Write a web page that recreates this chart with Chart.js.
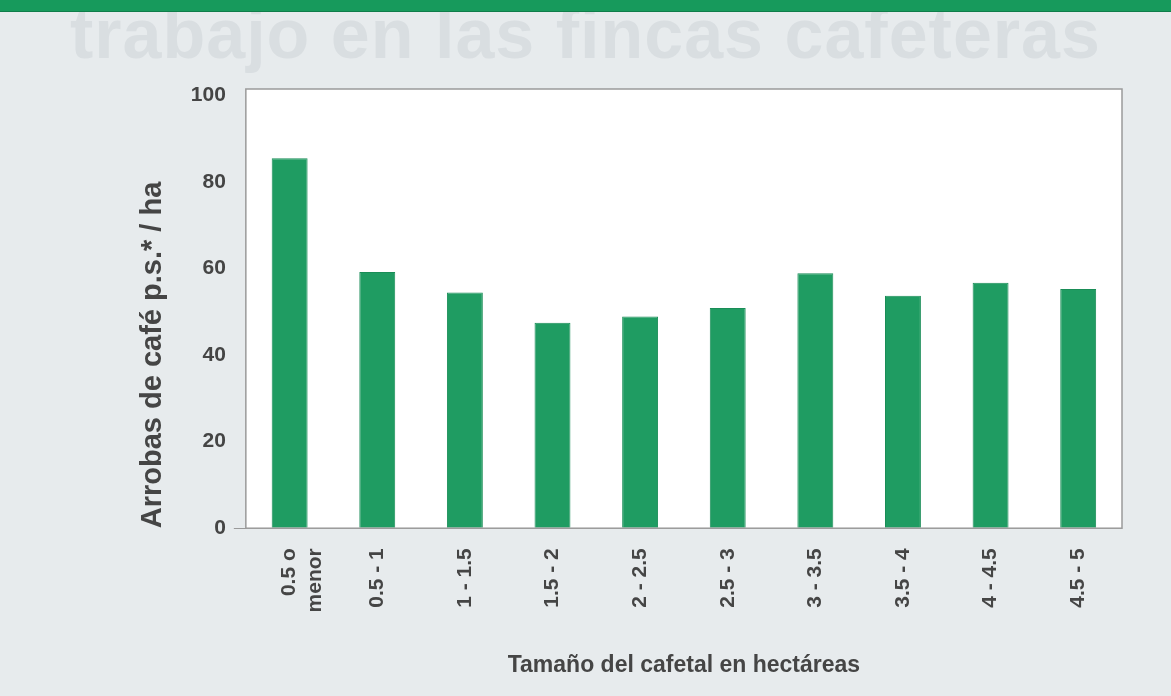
<!DOCTYPE html>
<html lang="es">
<head>
<meta charset="utf-8">
<title>Arrobas de café por hectárea según tamaño del cafetal</title>
<script src="https://cdn.jsdelivr.net/npm/chart.js@4.4.1/dist/chart.umd.min.js"></script>
<style>
  html, body {
    margin: 0;
    padding: 0;
    width: 1171px;
    height: 696px;
    overflow: hidden;
    background: #e7ebed;
    font-family: "Liberation Sans", Arial, sans-serif;
  }
  #banda {
    position: absolute;
    left: 0; top: 0;
    width: 1171px; height: 11px;
    background: #179a5c;
    border-bottom: 1px solid #0f7d4a;
    z-index: 2;
  }
  #titulo {
    position: absolute;
    left: 70px; top: -6px;
    margin: 0;
    font-family: "Liberation Sans", Arial, sans-serif;
    font-weight: bold;
    font-size: 70px;
    line-height: 80px;
    letter-spacing: 1px;
    color: #d9dee1;
    white-space: nowrap;
  }
  #grafico {
    position: absolute;
    left: 0; top: 0;
  }
</style>
</head>
<body>
<div id="banda"></div>
<h1 id="titulo">trabajo en las fincas cafeteras</h1>
<canvas id="grafico" width="1171" height="696"></canvas>
<script>
// Tamaño del cafetal (ha) y producción en arrobas de café pergamino seco por hectárea
const rangos = [['0.5 o', 'menor'], '0.5 - 1', '1 - 1.5', '1.5 - 2', '2 - 2.5',
                '2.5 - 3', '3 - 3.5', '3.5 - 4', '4 - 4.5', '4.5 - 5'];
const arrobasPorHa = [85.5, 59.2, 54.5, 47.5, 48.9, 50.9, 58.9, 53.7, 56.7, 55.3];
const marcasY = [0, 20, 40, 60, 80, 100];

const colorTexto = '#454545';
const familia = '"Liberation Sans", Arial, sans-serif';

// fondo blanco y marco gris del área de trazado
const marcoArea = {
    id: 'marcoArea',
    beforeDraw(chart) {
        const { ctx, chartArea: a } = chart;
        ctx.save();
        ctx.fillStyle = '#ffffff';
        ctx.fillRect(a.left, a.top, a.right - a.left, a.bottom - a.top);
        ctx.restore();
    },
    afterDraw(chart) {
        const { ctx, chartArea: a } = chart;
        ctx.save();
        ctx.strokeStyle = '#9a9a9a';
        ctx.lineWidth = 1.5;
        ctx.strokeRect(a.left, a.top, a.right - a.left, a.bottom - a.top);
        ctx.restore();
    }
};

const ctx = document.getElementById('grafico').getContext('2d');
new Chart(ctx, {
    type: 'bar',
    data: {
        labels: rangos,
        datasets: [{
            label: 'Arrobas de café p.s.* / ha',
            data: arrobasPorHa,
            backgroundColor: '#1f9c62',
            borderColor: '#1a8d57',
            borderWidth: 1,
            barPercentage: 0.41,
            categoryPercentage: 1
        }]
    },
    options: {
        responsive: false,
        animation: false,
        layout: { padding: { top: 89, right: 49, left: 136, bottom: 17 } },
        plugins: {
            legend: { display: false },
            tooltip: { enabled: false }
        },
        scales: {
            x: {
                grid: { display: false, drawTicks: false },
                border: { display: false },
                ticks: {
                    color: colorTexto,
                    font: { family: familia, weight: 'bold', size: 21 },
                    minRotation: 90,
                    maxRotation: 90,
                    padding: 20,
                    autoSkip: false
                },
                title: {
                    display: true,
                    text: 'Tamaño del cafetal en hectáreas',
                    color: colorTexto,
                    font: { family: familia, weight: 'bold', size: 23 },
                    padding: { top: 19, bottom: 0 }
                }
            },
            y: {
                min: 0,
                max: 101.5,
                afterBuildTicks(scale) {
                    scale.ticks = marcasY.map(v => ({ value: v }));
                },
                grid: {
                    drawOnChartArea: false,
                    tickLength: 12,
                    tickColor: c => c.tick && c.tick.value === 0 ? '#9a9a9a' : 'rgba(0,0,0,0)'
                },
                border: { display: false },
                ticks: {
                    color: colorTexto,
                    font: { family: familia, weight: 'bold', size: 21 },
                    padding: 8
                },
                title: {
                    display: true,
                    text: 'Arrobas de café p.s.* / ha',
                    align: 'start',
                    color: colorTexto,
                    font: { family: familia, weight: 'bold', size: 29 },
                    padding: { top: 0, bottom: 12 }
                }
            }
        }
    },
    plugins: [marcoArea]
});
</script>
</body>
</html>
